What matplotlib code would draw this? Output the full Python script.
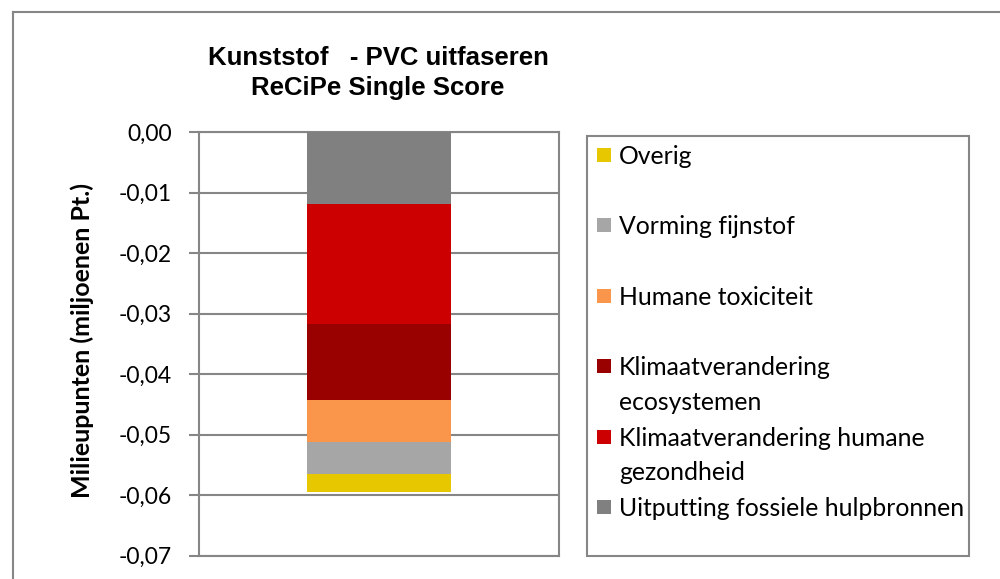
import matplotlib.pyplot as plt
from matplotlib.patches import Rectangle
from matplotlib.lines import Line2D

# gegevens (van onder 0 naar beneden gestapeld)
categorieen = ['Uitputting fossiele hulpbronnen',
               'Klimaatverandering humane\ngezondheid',
               'Klimaatverandering\necosystemen',
               'Humane toxiciteit',
               'Vorming fijnstof',
               'Overig']
waarden = [-0.0119, -0.0198, -0.0126, -0.0069, -0.0053, -0.0030]
kleuren = ['#808080', '#CC0000', '#990000', '#F9964B', '#A6A6A6', '#E6C700']

yticks = [0.0, -0.01, -0.02, -0.03, -0.04, -0.05, -0.06, -0.07]
ytick_labels = ['0,00', '-0,01', '-0,02', '-0,03', '-0,04', '-0,05', '-0,06', '-0,07']

titel = 'Kunststof   - PVC uitfaseren\nReCiPe Single Score'
ylabel = 'Milieupunten (miljoenen Pt.)'

W, H = 1000, 579
RAND = '#868686'
TEKST = ['Lato', 'DejaVu Sans']


def px(x, y):
    return x / W, 1 - y / H


fig = plt.figure(figsize=(W / 100, H / 100), dpi=100)

# kader van de grafiek (loopt buiten beeld door)
fig.add_artist(Line2D([13 / W, 13 / W], [1 - 12 / H, 0], color=RAND, lw=1.5))
fig.add_artist(Line2D([13 / W, 1], [1 - 12 / H, 1 - 12 / H], color=RAND, lw=1.5))

ax = fig.add_axes([199 / W, 1 - 555.7 / H, 360 / W, (555.7 - 132.3) / H])

onder = 0
for w, c in zip(waarden, kleuren):
    ax.bar(0, w, bottom=onder, width=0.4, color=c, zorder=3)
    onder += w

ax.set_xlim(-0.5, 0.5)
ax.set_ylim(-0.07, 0)
ax.set_xticks([])
ax.set_yticks(yticks)
ax.set_yticklabels(ytick_labels, family=TEKST, fontsize=16.5)
ax.tick_params(axis='y', direction='out', length=7, width=1.5, color=RAND, pad=12.5)
ax.grid(axis='y', color=RAND, lw=1.5, zorder=0)
for s in ax.spines.values():
    s.set_color(RAND)
    s.set_linewidth(1.5)

fig.text(*px(82, 340), ylabel, rotation=90, ha='center', va='center',
         family=TEKST, fontweight='bold', fontsize=18)

fig.text(*px(378, 73), titel, ha='center', va='center', family='Liberation Sans',
         fontweight='bold', fontsize=18.5, linespacing=1.3)

# legenda
lx0, ly0, lx1, ly1 = 587, 136, 969, 556
fig.add_artist(Rectangle(px(lx0, ly1), (lx1 - lx0) / W, (ly1 - ly0) / H,
                         transform=fig.transFigure, fill=False, ec=RAND, lw=1.5))
for i, (lab, c) in enumerate(zip(categorieen[::-1], kleuren[::-1])):
    yc = 155 + i * 70.4
    fig.add_artist(Rectangle(px(597, yc + 7), 14 / W, 14 / H, transform=fig.transFigure,
                             fc=c, ec='none'))
    fig.text(*px(619, yc - 10), lab, ha='left', va='top', family=TEKST, fontsize=17.8,
             linespacing=1.62)

fig.savefig('out.png', dpi=100)
